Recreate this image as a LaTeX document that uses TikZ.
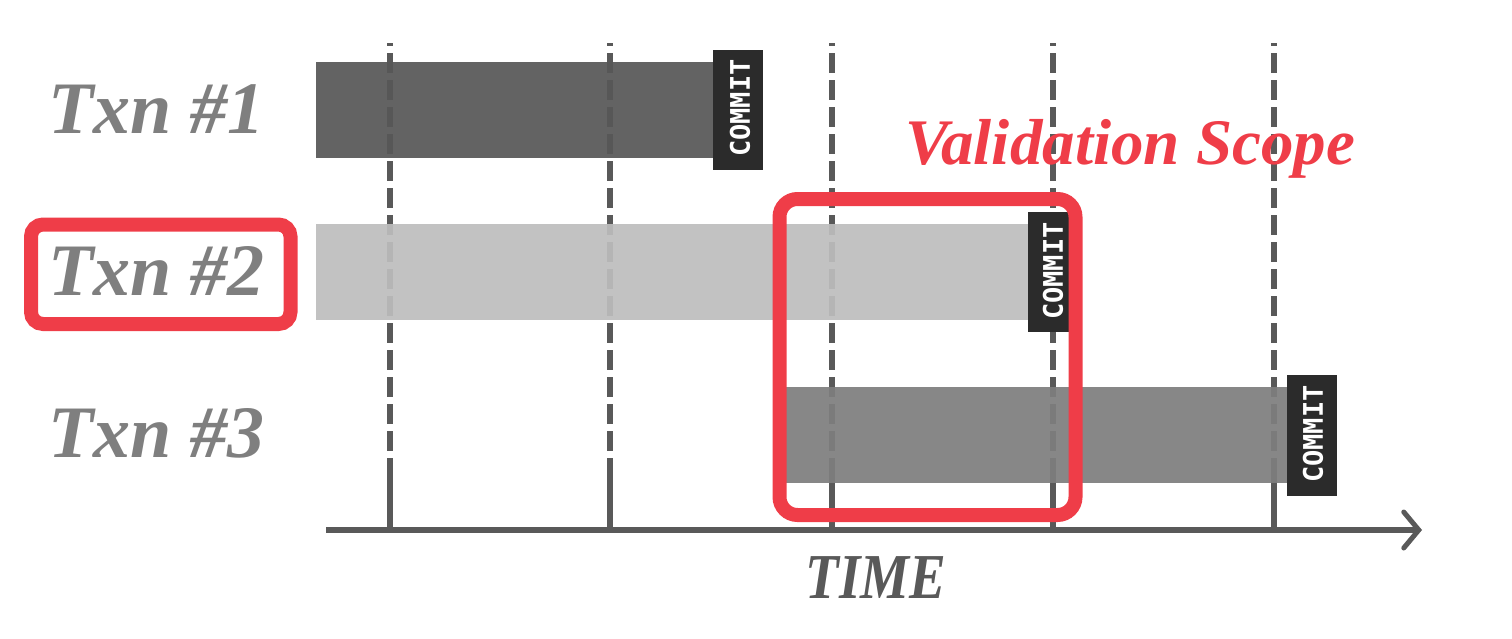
\documentclass[tikz,border=0pt]{standalone}
\usepackage{fontspec}
\setmainfont{Liberation Serif}
\newfontfamily\commitfont{DejaVu Sans Mono}
\usetikzlibrary{arrows.meta}
\definecolor{axisgray}{HTML}{595959}
\definecolor{labelgray}{HTML}{7F7F7F}
\definecolor{barA}{HTML}{575757}
\definecolor{barB}{HTML}{BDBDBD}
\definecolor{barC}{HTML}{7E7E7E}
\definecolor{commitbg}{HTML}{2B2B2B}
\definecolor{hired}{HTML}{EF3D48}
\tikzset{
  tick/.style={draw=axisgray, line width=5.5pt, dash pattern=on 20pt off 7pt, dash phase=17pt},
  ticksolid/.style={draw=axisgray, line width=5.5pt},
  bar/.style={fill opacity=0.93, draw=none},
  commitbox/.style={fill=commitbg, draw=none, inner sep=0pt},
  committext/.style={text=white, font=\commitfont\bfseries\fontsize{27}{27}\selectfont, rotate=90, inner sep=0pt},
  txnlabel/.style={text=labelgray, font=\bfseries\itshape\fontsize{74}{80}\selectfont, anchor=base west, inner sep=0pt},
  redbox/.style={draw=hired, line width=14pt, rounded corners=18pt},
}
\begin{document}
\begin{tikzpicture}[x=1pt,y=-1pt]
\useasboundingbox (0,0) rectangle (1512,638);
% vertical dashed time lines
\foreach \i/\x in {1/390,2/610,3/832,4/1053,5/1274}{
  \coordinate (t\i top) at (\x,43);
  \coordinate (t\i mid) at (\x,478);
  \coordinate (t\i bot) at (\x,530);
  \draw[tick] (t\i top) -- (t\i mid);
  \draw[ticksolid] (t\i mid) -- (t\i bot);
}
% axis
\coordinate (axstart) at (326,530);
\coordinate (axend) at (1422,530);
\draw[axisgray, line width=6pt, -{Straight Barb[length=15pt,width=36pt,line width=5pt,line cap=round]}] (axstart) -- (axend);
\node[text=axisgray, font=\bfseries\itshape\fontsize{64}{70}\selectfont, xscale=0.86, anchor=base, inner sep=0pt] (time) at (876,598) {TIME};
% bars
\fill[bar, fill=barA] (316,62) rectangle (716,158);
\fill[bar, fill=barB] (316,224) rectangle (1030,320);
\fill[bar, fill=barC] (783,387) rectangle (1290,483);
% commit boxes
\node[commitbox, minimum width=50pt, minimum height=120pt] (c1) at (738,110) {};
\node[committext] at (740,108) {COMMIT};
\node[commitbox, minimum width=41pt, minimum height=120pt] (c2) at (1048.5,272) {};
\node[committext] at (1053,271) {COMMIT};
\node[commitbox, minimum width=50pt, minimum height=121pt] (c3) at (1312,435.5) {};
\node[committext] at (1313,434) {COMMIT};
% labels
\node[txnlabel] (l1) at (48,133) {Txn \#1};
\node[txnlabel] (l2) at (48,295) {Txn \#2};
\node[txnlabel] (l3) at (48,457) {Txn \#3};
% red boxes
\draw[redbox, rounded corners=12pt] (31,224.5) rectangle (290.5,324);
\draw[redbox] (779.5,199) rectangle (1075.5,515);
\node[text=hired, font=\bfseries\itshape\fontsize{65}{70}\selectfont, anchor=base west, inner sep=0pt] (vs) at (905,164) {Validation Scope};
\end{tikzpicture}
\end{document}
